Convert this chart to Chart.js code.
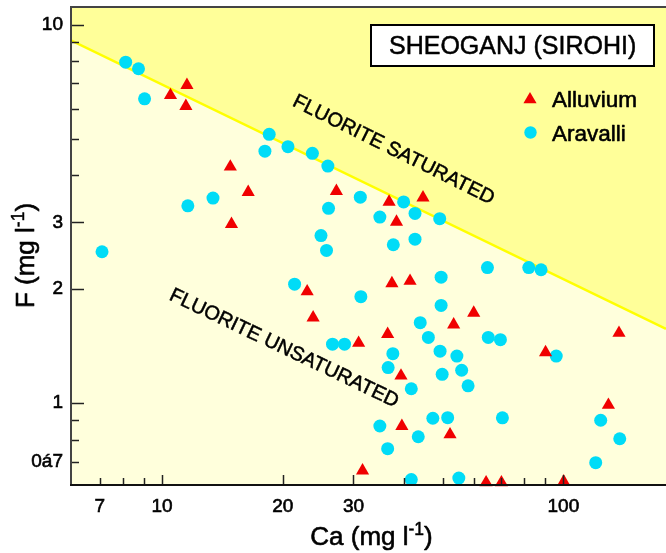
<!DOCTYPE html>
<html>
<head>
<meta charset="utf-8">
<title>Sheoganj (Sirohi) - F vs Ca</title>
<script src="https://cdn.jsdelivr.net/npm/chart.js@4.4.0/dist/chart.umd.min.js"></script>
<style>
  html, body { margin: 0; padding: 0; background: #fff; }
  #wrap { width: 666px; height: 553px; }
</style>
</head>
<body>
<div id="wrap"><canvas id="chart" width="666" height="553"></canvas></div>
<script>
// Dữ liệu (Ca, F đơn vị mg/l)
const alluviumCa = [11.54, 10.5, 11.47, 14.8, 16.4, 14.9, 27.2, 36.8, 44.7, 38.4, 37.4, 41.5, 23.0, 23.8, 30.9, 36.5, 53.3, 59.8, 39.4, 90.3, 137.6, 39.6, 52.2, 31.6, 129.5, 64.2, 70.1, 100.2];
const alluviumF  = [6.92, 6.51, 6.09, 4.21, 3.61, 2.97, 3.63, 3.40, 3.49, 3.01, 2.07, 2.10, 1.97, 1.68, 1.44, 1.52, 1.61, 1.73, 1.18, 1.36, 1.53, 0.868, 0.825, 0.662, 0.987, 0.616, 0.616, 0.619];

const aravalliCa = [8.12, 8.74, 9.05, 18.5, 18.05, 20.6, 23.7, 25.9, 13.4, 11.6, 7.09, 31.2, 26.0, 40.0, 42.7, 49.2, 34.9, 24.9, 37.7, 42.7, 25.7, 64.7, 82.0, 88.0, 49.6, 21.4, 31.3, 49.6, 44.0, 46.1, 26.6, 28.5, 65.0, 69.7, 49.3, 54.3, 37.6, 36.6, 49.9, 55.8, 57.9, 41.8, 96.0, 34.9, 47.3, 51.5, 43.5, 36.5, 41.8, 54.9, 70.5, 123.9, 138.2, 120.4];
const aravalliF  = [7.96, 7.65, 6.37, 5.13, 4.63, 4.76, 4.57, 4.23, 3.48, 3.32, 2.51, 3.50, 3.27, 3.40, 3.17, 3.07, 3.10, 2.77, 2.62, 2.71, 2.53, 2.28, 2.28, 2.25, 2.15, 2.06, 1.91, 1.81, 1.63, 1.49, 1.43, 1.43, 1.49, 1.47, 1.37, 1.33, 1.35, 1.24, 1.19, 1.22, 1.11, 1.09, 1.33, 0.869, 0.911, 0.914, 0.814, 0.757, 0.627, 0.633, 0.913, 0.900, 0.804, 0.695];

// Đường bão hòa fluorite (hai đầu mút)
const saturationCa = [5.93, 180.2];
const saturationF  = [9.09, 1.57];

// Vạch chia trục
const xTicks = [7, 8, 9, 10, 20, 30, 40, 50, 60, 70, 80, 90, 100];
const xLabelValues = [7, 10, 20, 30, 100];
const xLabelTexts = ['7', '10', '20', '30', '100'];
const xLongTicks = [10, 20, 30, 100];

const yTicks = [0.7, 0.8, 0.9, 1, 2, 3, 4, 5, 6, 7, 8, 9, 10];
const yLabelValues = [0.7, 1, 2, 3, 10];
const yLabelTexts = ['0á7', '1', '2', '3', '10'];
const yLongTicks = [1, 2, 3, 10];

const FONT = '"Liberation Sans", Arial, Helvetica, sans-serif';
const RED = '#f00000';
const CYAN = '#00dcf7';

function toPoints(xs, ys) {
  return xs.map((v, i) => ({ x: v, y: ys[i] }));
}

// Chữ hơi đậm như bản gốc
function boldText(ctx, text, x, y, sw) {
  ctx.lineWidth = sw;
  ctx.strokeStyle = ctx.fillStyle;
  ctx.lineJoin = 'round';
  ctx.strokeText(text, x, y);
  ctx.fillText(text, x, y);
}

// Nền vùng vẽ
const bgPlugin = {
  id: 'bg',
  beforeDraw(chart) {
    const { ctx, chartArea: a } = chart;
    ctx.save();
    ctx.fillStyle = '#ffffff';
    ctx.fillRect(0, 0, chart.width, chart.height);
    ctx.fillStyle = '#ffffdc';
    ctx.fillRect(a.left, a.top, a.right - a.left, a.bottom - a.top);
    ctx.restore();
  }
};

function drawTriangle(ctx, x, y, r) {
  ctx.beginPath();
  ctx.moveTo(x, y - r);
  ctx.lineTo(x + r * Math.sin(Math.PI * 2 / 3), y + r / 2);
  ctx.lineTo(x - r * Math.sin(Math.PI * 2 / 3), y + r / 2);
  ctx.closePath();
  ctx.fill();
}

// Chữ có chỉ số trên "-1"
function drawUnitLabel(ctx, before, sup, after, cx, baseline) {
  ctx.font = '26px ' + FONT;
  const w1 = ctx.measureText(before).width;
  const w3 = ctx.measureText(after).width;
  ctx.font = '17.5px ' + FONT;
  const w2 = ctx.measureText(sup).width;
  let x = cx - (w1 + w2 + w3) / 2;
  ctx.textAlign = 'left';
  ctx.textBaseline = 'alphabetic';
  ctx.font = '26px ' + FONT;
  boldText(ctx, before, x, baseline, 0.6);
  x += w1;
  ctx.font = '17.5px ' + FONT;
  boldText(ctx, sup, x, baseline - 10, 0.5);
  x += w2;
  ctx.font = '26px ' + FONT;
  boldText(ctx, after, x, baseline, 0.6);
}

const overlayPlugin = {
  id: 'overlay',
  afterDraw(chart) {
    const { ctx, chartArea: a, scales: { x, y } } = chart;
    ctx.save();

    // Vạch chia hướng vào trong
    ctx.strokeStyle = '#222';
    ctx.lineWidth = 1.5;
    xTicks.forEach(v => {
      const px = Math.round(x.getPixelForValue(v)) + 0.5;
      const len = xLongTicks.includes(v) ? 10 : 7;
      ctx.beginPath();
      ctx.moveTo(px, a.bottom);
      ctx.lineTo(px, a.bottom - len);
      ctx.stroke();
    });
    yTicks.forEach(v => {
      const py = Math.round(y.getPixelForValue(v)) + 0.5;
      const len = yLongTicks.includes(v) ? 13 : 8;
      ctx.beginPath();
      ctx.moveTo(a.left, py);
      ctx.lineTo(a.left + len, py);
      ctx.stroke();
    });

    // Khung
    ctx.lineWidth = 2;
    ctx.strokeStyle = '#444';
    ctx.beginPath();
    ctx.moveTo(a.right, a.top);
    ctx.lineTo(a.left, a.top);
    ctx.lineTo(a.left, a.bottom);
    ctx.stroke();
    ctx.strokeStyle = '#111';
    ctx.beginPath();
    ctx.moveTo(a.left - 1, a.bottom);
    ctx.lineTo(a.right, a.bottom);
    ctx.stroke();

    // Tiêu đề trong khung
    ctx.fillStyle = '#fff';
    ctx.fillRect(371, 25, 283, 41);
    ctx.strokeStyle = '#000';
    ctx.lineWidth = 2;
    ctx.strokeRect(371, 25, 283, 41);
    ctx.fillStyle = '#000';
    ctx.font = '25px ' + FONT;
    ctx.textAlign = 'left';
    ctx.textBaseline = 'alphabetic';
    boldText(ctx, 'SHEOGANJ (SIROHI)', 389, 54, 0.5);

    // Chú giải
    ctx.fillStyle = RED;
    drawTriangle(ctx, 530, 99.5, 7.6);
    ctx.fillStyle = CYAN;
    ctx.beginPath();
    ctx.arc(530.5, 132.5, 6.2, 0, Math.PI * 2);
    ctx.fill();
    ctx.fillStyle = '#000';
    ctx.font = '22.5px ' + FONT;
    boldText(ctx, 'Alluvium', 552, 107, 0.6);
    boldText(ctx, 'Aravalli', 552, 140.5, 0.6);

    // Nhãn xoay
    ctx.font = '20px ' + FONT;
    ctx.textAlign = 'center';
    ctx.textBaseline = 'middle';
    ctx.save();
    ctx.translate(393.5, 150);
    ctx.rotate(26.5 * Math.PI / 180);
    boldText(ctx, 'FLUORITE SATURATED', 0, 0, 0.5);
    ctx.restore();
    ctx.save();
    ctx.translate(284, 348.5);
    ctx.rotate(25.5 * Math.PI / 180);
    boldText(ctx, 'FLUORITE UNSATURATED', 0, 0, 0.5);
    ctx.restore();

    // Tên trục
    drawUnitLabel(ctx, 'Ca (mg l', '-1', ')', 371.5, 544.5);
    ctx.save();
    ctx.translate(34, 255.5);
    ctx.rotate(-Math.PI / 2);
    drawUnitLabel(ctx, 'F (mg l', '-1', ')', 0, 0);
    ctx.restore();

    ctx.restore();
  }
};

function noPadding(scale) {
  scale.paddingTop = 0;
  scale.paddingBottom = 0;
  scale.paddingLeft = 0;
  scale.paddingRight = 0;
}

const ctx = document.getElementById('chart').getContext('2d');

new Chart(ctx, {
  type: 'scatter',
  data: {
    datasets: [
      {
        label: 'Alluvium',
        data: toPoints(alluviumCa, alluviumF),
        pointStyle: 'triangle',
        pointRadius: 7.6,
        backgroundColor: RED,
        borderWidth: 0,
        clip: false,
        order: 1
      },
      {
        label: 'Aravalli',
        data: toPoints(aravalliCa, aravalliF),
        pointStyle: 'circle',
        pointRadius: 6.5,
        backgroundColor: CYAN,
        borderWidth: 0,
        clip: false,
        order: 2
      },
      {
        type: 'line',
        label: 'Saturation',
        data: toPoints(saturationCa, saturationF),
        borderColor: '#ffff00',
        borderWidth: 2.5,
        backgroundColor: '#ffff99',
        fill: 'end',
        pointRadius: 0,
        tension: 0,
        order: 3
      }
    ]
  },
  options: {
    responsive: false,
    animation: false,
    events: [],
    layout: { autoPadding: false, padding: { top: 7, right: 0, left: 0, bottom: 0 } },
    plugins: {
      legend: { display: false },
      tooltip: { enabled: false }
    },
    scales: {
      x: {
        type: 'logarithmic',
        min: 5.934,
        max: 180.2,
        bounds: 'data',
        afterFit(scale) { scale.height = 68; noPadding(scale); },
        afterBuildTicks(scale) { scale.ticks = xTicks.map(v => ({ value: v })); },
        grid: { display: false, drawTicks: false },
        border: { display: false },
        ticks: {
          autoSkip: false,
          maxRotation: 0,
          padding: 10,
          color: '#000',
          textStrokeColor: '#000',
          textStrokeWidth: 0.6,
          font: { family: FONT, size: 19 },
          callback: (v) => {
            const i = xLabelValues.indexOf(v);
            return i >= 0 ? xLabelTexts[i] : '';
          }
        }
      },
      y: {
        type: 'logarithmic',
        min: 0.6067,
        max: 11.14,
        bounds: 'data',
        afterFit(scale) { scale.width = 71; noPadding(scale); },
        afterBuildTicks(scale) { scale.ticks = yTicks.map(v => ({ value: v })); },
        grid: { display: false, drawTicks: false },
        border: { display: false },
        ticks: {
          autoSkip: false,
          padding: 8,
          color: '#000',
          textStrokeColor: '#000',
          textStrokeWidth: 0.6,
          font: { family: FONT, size: 19 },
          callback: (v) => {
            const i = yLabelValues.indexOf(v);
            return i >= 0 ? yLabelTexts[i] : '';
          }
        }
      }
    }
  },
  plugins: [bgPlugin, overlayPlugin]
});
</script>
</body>
</html>
